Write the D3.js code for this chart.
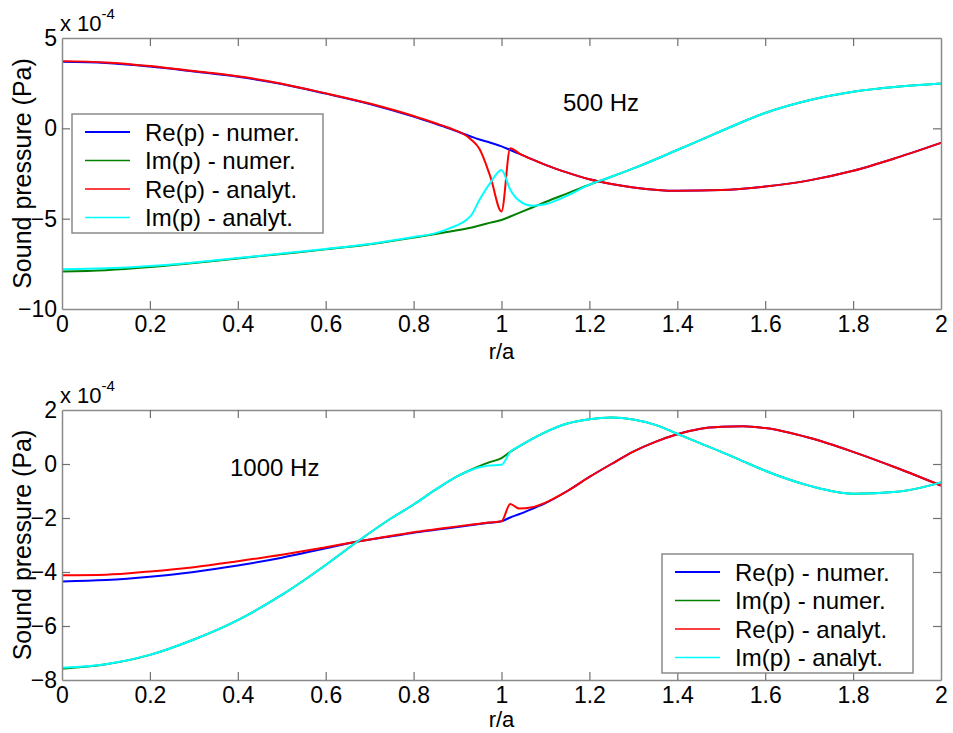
<!DOCTYPE html>
<html>
<head>
<meta charset="utf-8">
<script src="https://cdn.jsdelivr.net/npm/d3@7"></script>
<style>
  html, body { margin: 0; padding: 0; background: #fff; }
  svg { display: block; font-family: "Liberation Sans", Arial, sans-serif; }
</style>
</head>
<body>
<svg id="chart" width="953" height="733"></svg>
<script>
// ---------- DATA ----------
const seriesNames = ["Re(p) - numer.", "Im(p) - numer.", "Re(p) - analyt.", "Im(p) - analyt."];
const seriesColors = ["#0000ff", "#008000", "#ff0000", "#00ffff"];
const xTicks = [0, 0.2, 0.4, 0.6, 0.8, 1, 1.2, 1.4, 1.6, 1.8, 2];
const yTicksTop = [-10, -5, 0, 5];
const yTicksBot = [-8, -6, -4, -2, 0, 2];

// 500 Hz (values x 1e-4 Pa)
const rTop = [0,0.1,0.2,0.3,0.4,0.5,0.6,0.7,0.8,0.85,0.88,0.93,0.95,0.975,1.0,1.02,1.04,1.07,1.1,1.15,1.2,1.25,1.3,1.4,1.5,1.6,1.7,1.8,1.9,2.0];
const topReNum = [3.68,3.62,3.42,3.15,2.86,2.45,1.92,1.35,0.65,0.25,0.0,-0.45,-0.62,-0.8,-1.0,-1.2,-1.4,-1.72,-2.02,-2.45,-2.82,-3.08,-3.27,-3.46,-3.42,-3.22,-2.88,-2.35,-1.62,-0.8];
const topImNum = [-7.92,-7.85,-7.68,-7.45,-7.2,-6.95,-6.7,-6.42,-6.05,-5.85,-5.72,-5.5,-5.38,-5.22,-5.07,-4.88,-4.68,-4.38,-4.08,-3.6,-3.12,-2.68,-2.22,-1.2,-0.15,0.85,1.55,2.02,2.3,2.48];
const topReAna = [3.72,3.65,3.45,3.17,2.88,2.47,1.94,1.37,0.68,0.28,0.03,-0.6,-1.15,-2.7,-4.6,-1.1,-1.38,-1.72,-2.02,-2.45,-2.82,-3.08,-3.27,-3.46,-3.42,-3.22,-2.88,-2.35,-1.62,-0.8];
const topImAna = [-7.8,-7.75,-7.62,-7.42,-7.18,-6.93,-6.68,-6.4,-6.02,-5.8,-5.55,-4.85,-3.95,-3.0,-2.3,-3.4,-4.0,-4.28,-4.2,-3.72,-3.12,-2.68,-2.22,-1.2,-0.15,0.85,1.55,2.02,2.3,2.48];

// 1000 Hz (values x 1e-4 Pa)
const rBot = [0,0.1,0.2,0.3,0.4,0.5,0.6,0.67,0.75,0.8,0.85,0.9,0.95,0.97,1.0,1.02,1.04,1.07,1.1,1.15,1.2,1.25,1.3,1.35,1.4,1.45,1.5,1.55,1.6,1.7,1.8,1.9,2.0];
const botReNum = [-4.35,-4.3,-4.18,-4.0,-3.76,-3.47,-3.12,-2.88,-2.68,-2.55,-2.44,-2.33,-2.22,-2.18,-2.12,-1.98,-1.86,-1.66,-1.45,-1.0,-0.48,0.0,0.46,0.82,1.1,1.3,1.38,1.4,1.33,0.97,0.45,-0.15,-0.8];
const botImNum = [-7.58,-7.42,-7.07,-6.5,-5.78,-4.85,-3.74,-2.9,-2.0,-1.5,-0.95,-0.45,-0.08,0.05,0.22,0.45,0.65,0.93,1.18,1.5,1.66,1.72,1.65,1.45,1.12,0.78,0.45,0.1,-0.25,-0.8,-1.1,-1.03,-0.68];
const botReAna = [-4.12,-4.1,-3.98,-3.82,-3.6,-3.36,-3.08,-2.88,-2.66,-2.53,-2.42,-2.31,-2.21,-2.17,-2.12,-1.48,-1.65,-1.6,-1.43,-1.0,-0.48,0.0,0.46,0.82,1.1,1.3,1.38,1.4,1.33,0.97,0.45,-0.15,-0.8];
const botImAna = [-7.55,-7.42,-7.07,-6.5,-5.78,-4.85,-3.74,-2.9,-2.0,-1.5,-0.95,-0.45,-0.12,-0.06,-0.03,0.45,0.65,0.93,1.18,1.5,1.66,1.72,1.65,1.45,1.12,0.78,0.45,0.1,-0.25,-0.8,-1.1,-1.03,-0.68];

// ---------- DRAW ----------
const svg = d3.select("#chart");
const AX = "#8a8a8a";
const FONT_TICK = 23;

function panel(cfg) {
  const x = d3.scaleLinear().domain([0, 2]).range([cfg.left, cfg.right]);
  const y = d3.scaleLinear().domain(cfg.yDomain).range([cfg.bottom, cfg.top]);
  const g = svg.append("g");

  // curves
  const line = d3.line().curve(d3.curveMonotoneX);
  cfg.series.forEach((vals, i) => {
    const pts = cfg.r.map((r, k) => [x(r), y(vals[k])]);
    g.append("path").attr("d", line(pts))
      .attr("fill", "none").attr("stroke", seriesColors[i])
      .attr("stroke-width", 2).attr("stroke-linejoin", "round");
  });

  // axes (box with inward ticks)
  const styleAxis = (sel, showLabels) => {
    sel.select(".domain").attr("stroke", AX).attr("stroke-width", 1.5);
    sel.selectAll(".tick line").attr("stroke", "#707070").attr("stroke-width", 1.2);
    sel.selectAll(".tick text").attr("fill", "#000").style("font-size", FONT_TICK + "px")
      .style("font-family", '"Liberation Sans", Arial, sans-serif');
    if (!showLabels) sel.selectAll(".tick text").remove();
  };
  const fmt = d3.format("");
  const ab = g.append("g").attr("transform", `translate(0,${cfg.bottom})`)
    .call(d3.axisBottom(x).tickValues(xTicks).tickSizeInner(-8).tickSizeOuter(0).tickPadding(7).tickFormat(fmt));
  styleAxis(ab, true);
  const at = g.append("g").attr("transform", `translate(0,${cfg.top})`)
    .call(d3.axisTop(x).tickValues(xTicks).tickSizeInner(-8).tickSizeOuter(0));
  styleAxis(at, false);
  const al = g.append("g").attr("transform", `translate(${cfg.left},0)`)
    .call(d3.axisLeft(y).tickValues(cfg.yTicks).tickSizeInner(-8).tickSizeOuter(0).tickPadding(5).tickFormat(fmt));
  styleAxis(al, true);
  const ar = g.append("g").attr("transform", `translate(${cfg.right},0)`)
    .call(d3.axisRight(y).tickValues(cfg.yTicks).tickSizeInner(-8).tickSizeOuter(0));
  styleAxis(ar, false);
  [at, ab].forEach(a => a.selectAll(".tick").filter(d => d === 0 || d === 2).select("line").remove());
  [al, ar].forEach(a => a.selectAll(".tick").filter(d => d === cfg.yDomain[0] || d === cfg.yDomain[1]).select("line").remove());

  // exponent label
  const ex = g.append("text").attr("x", cfg.left - 2).attr("y", cfg.top - 7)
    .style("font-size", "22px").attr("fill", "#000");
  ex.append("tspan").text("x 10");
  ex.append("tspan").attr("dy", -12).style("font-size", "15px").text("-4");

  // axis labels
  g.append("text").attr("x", (cfg.left + cfg.right) / 2).attr("y", cfg.bottom + cfg.xlabOff)
    .attr("text-anchor", "middle").style("font-size", "22px").text("r/a");
  g.append("text")
    .attr("transform", `translate(31,${(cfg.top + cfg.bottom) / 2}) rotate(-90)`)
    .attr("text-anchor", "middle").style("font-size", "25px").text("Sound pressure (Pa)");

  // annotation
  g.append("text").attr("x", cfg.noteX).attr("y", cfg.noteY)
    .style("font-size", "24px").text(cfg.note);

  // legend
  const L = cfg.legend;
  const lg = g.append("g");
  lg.append("rect").attr("x", L.x).attr("y", L.y).attr("width", L.w).attr("height", L.h)
    .attr("fill", "#fff").attr("stroke", AX).attr("stroke-width", 1.5);
  seriesNames.forEach((name, i) => {
    const cy = L.y + 18 + i * 28.5;
    lg.append("line").attr("x1", L.x + 13).attr("x2", L.x + 58).attr("y1", cy).attr("y2", cy)
      .attr("stroke", seriesColors[i]).attr("stroke-width", i === 0 ? 2.2 : 1.6);
    lg.append("text").attr("x", L.x + 73).attr("y", cy + 8.5)
      .style("font-size", "24px").text(name);
  });
}

panel({
  left: 62, right: 941, top: 38, bottom: 309,
  yDomain: [-10, 5], yTicks: yTicksTop,
  r: rTop, series: [topReNum, topImNum, topReAna, topImAna],
  note: "500 Hz", noteX: 563, noteY: 111, xlabOff: 50,
  legend: { x: 72, y: 114, w: 251, h: 119 }
});
panel({
  left: 62, right: 941, top: 410, bottom: 680,
  yDomain: [-8, 2], yTicks: yTicksBot,
  r: rBot, series: [botReNum, botImNum, botReAna, botImAna],
  note: "1000 Hz", noteX: 230, noteY: 476, xlabOff: 47,
  legend: { x: 662, y: 554, w: 251, h: 119 }
});
</script>
</body>
</html>
